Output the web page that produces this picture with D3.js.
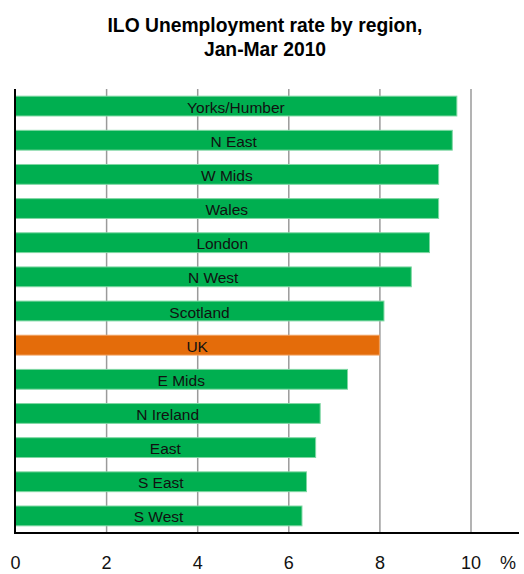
<!DOCTYPE html>
<html>
<head>
<meta charset="utf-8">
<script src="https://cdn.jsdelivr.net/npm/d3@7"></script>
<style>
	body { margin: 0; background: #fff; }
	text { font-family: "Liberation Sans", Arial, sans-serif; }
</style>
</head>
<body>
<div id="chart"></div>
<script>
// regions, top to bottom
var regions = ["Yorks/Humber", "N East", "W Mids", "Wales", "London", "N West", "Scotland",
	"UK", "E Mids", "N Ireland", "East", "S East", "S West"];
// ILO unemployment rate, %
var rates = [9.7, 9.6, 9.3, 9.3, 9.1, 8.7, 8.1, 8.0, 7.3, 6.7, 6.6, 6.4, 6.3];
var xTicks = [0, 2, 4, 6, 8, 10];
var titleLines = ["ILO Unemployment rate by region,", "Jan-Mar 2010"];

var width = 524, height = 574;
// plot area (note: "top" is a reserved window property, so plotTop)
var plotLeft = 15, plotRight = 470.5, plotTop = 89, plotBottom = 533;

var svg = d3.select("#chart").append("svg")
	.attr("width", width)
	.attr("height", height);

var data = regions.map(function(r, i){ return {name: r, value: rates[i]}; });

var x = d3.scaleLinear().domain([0, 10]).range([plotLeft, plotRight]);
var y = d3.scaleBand().domain(regions).range([plotTop, plotBottom])
	.paddingInner(0.42).paddingOuter(0.21);

//title
svg.append("text")
	.attr("text-anchor", "middle")
	.style("font-size", "19.3px")
	.style("font-weight", "bold")
	.style("fill", "#000")
	.selectAll("tspan")
	.data(titleLines)
	.enter().append("tspan")
	.attr("x", 265)
	.attr("y", function(d, i){ return 32 + i * 24; })
	.text(function(d){ return d; });

//gridlines, no tick marks
svg.append("g")
	.attr("transform", "translate(0," + plotTop + ")")
	.call(d3.axisBottom(x).tickValues(xTicks.slice(1)).tickSize(plotBottom - plotTop).tickFormat(""))
	.call(function(g){
		g.select(".domain").remove();
		g.selectAll(".tick line").attr("stroke", "#9a9a9a").attr("stroke-width", 1.5);
	});

//bars
svg.append("g").selectAll("rect")
	.data(data)
	.enter().append("rect")
	.attr("x", x(0))
	.attr("y", function(d){ return y(d.name); })
	.attr("width", function(d){ return x(d.value) - x(0); })
	.attr("height", y.bandwidth())
	.attr("fill", function(d){ return d.name == "UK" ? "#e46c0a" : "#00af50"; })
	.attr("stroke", function(d){ return d.name == "UK" ? "#f0a060" : "#7fd7a3"; })
	.attr("stroke-width", 1);

//labels inside bars
svg.append("g").selectAll("text")
	.data(data)
	.enter().append("text")
	.attr("x", function(d){ return (x(0) + x(d.value)) / 2; })
	.attr("y", function(d){ return y(d.name) + y.bandwidth() / 2 + 1; })
	.attr("text-anchor", "middle")
	.attr("dominant-baseline", "central")
	.style("font-size", "15.5px")
	.style("fill", "#111")
	.text(function(d){ return d.name; });

//axis lines
svg.append("line")
	.attr("x1", plotLeft).attr("x2", plotLeft)
	.attr("y1", plotTop).attr("y2", plotBottom + 1)
	.attr("stroke", "#000").attr("stroke-width", 2);
svg.append("line")
	.attr("x1", plotLeft - 1).attr("x2", 519)
	.attr("y1", plotBottom).attr("y2", plotBottom)
	.attr("stroke", "#000").attr("stroke-width", 2);

//tick labels below, detached from axis
svg.append("g")
	.attr("transform", "translate(0,569)")
	.call(d3.axisBottom(x).tickValues(xTicks).tickSize(0).tickPadding(0).tickFormat(d3.format("d")))
	.call(function(g){
		g.select(".domain").remove();
		g.selectAll("text")
			.attr("dy", 0)
			.attr("y", 0)
			.style("font-size", "18px")
			.style("font-family", "Liberation Sans, Arial, sans-serif")
			.style("fill", "#111");
	});

svg.append("text")
	.attr("x", 508)
	.attr("y", 569)
	.attr("text-anchor", "middle")
	.style("font-size", "18px")
	.style("fill", "#111")
	.text("%");
</script>
</body>
</html>
